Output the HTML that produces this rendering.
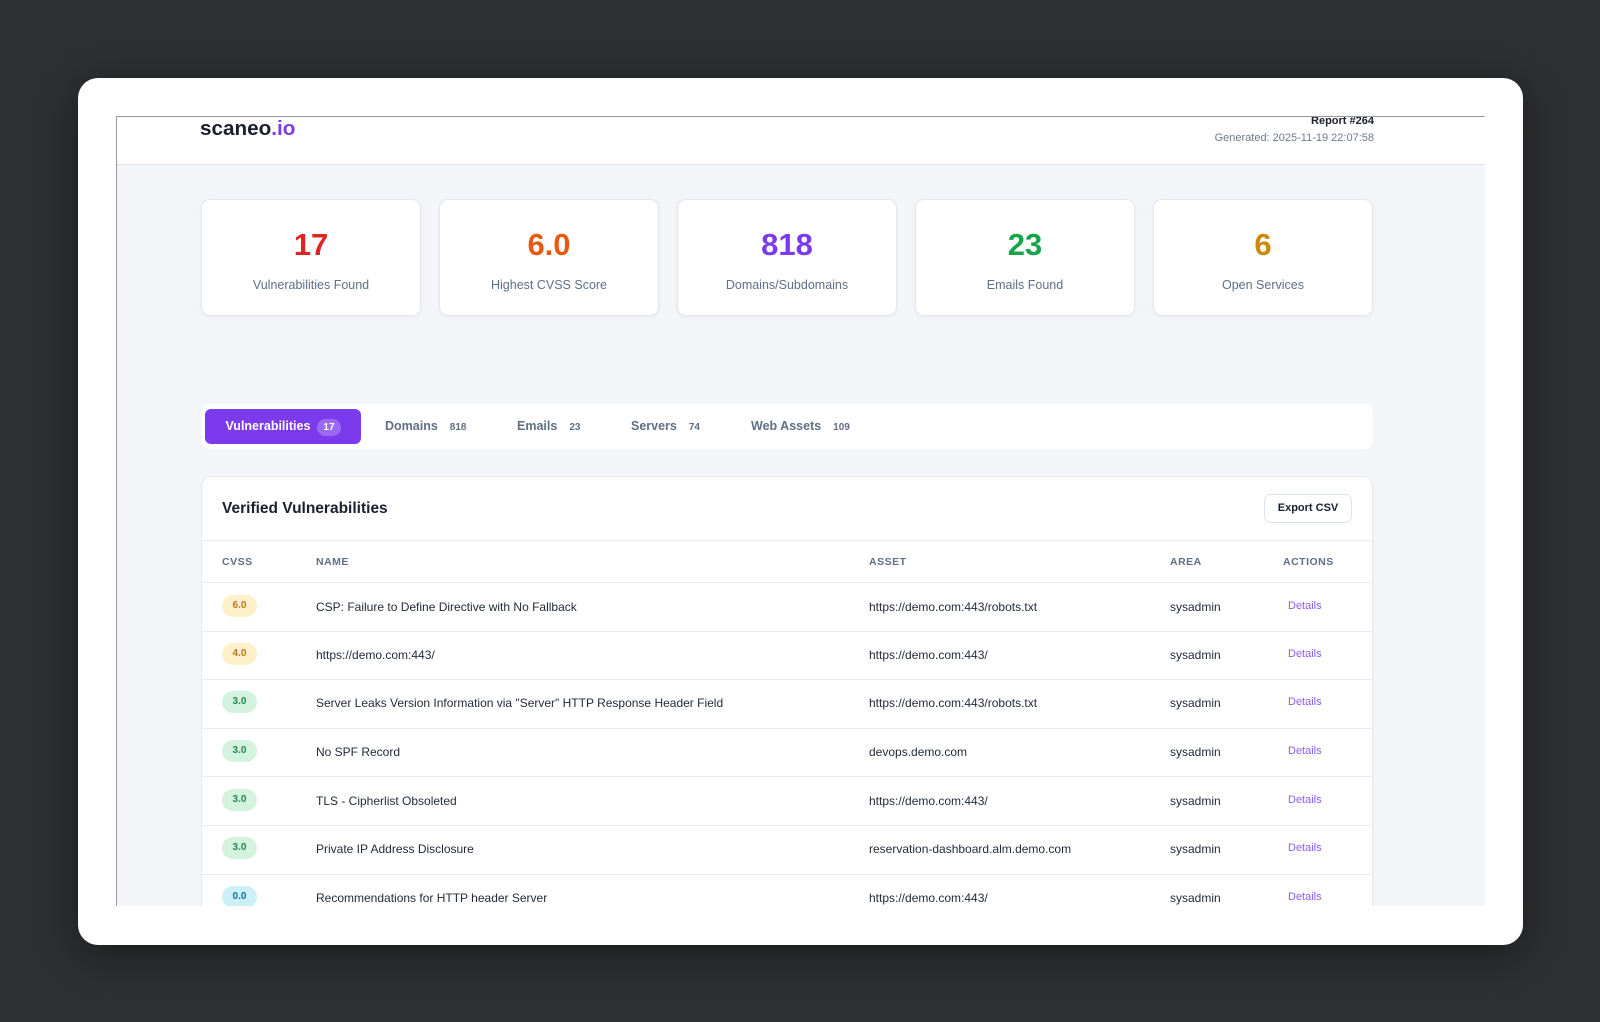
<!DOCTYPE html>
<html><head><meta charset="utf-8"><style>
*{box-sizing:border-box;margin:0;padding:0}
body{width:1600px;height:1022px;background:#2e2f32;font-family:"Liberation Sans",sans-serif;position:relative;overflow:hidden}
.frame{position:absolute;left:78px;top:78px;width:1445px;height:867px;background:#fff;border-radius:20px;box-shadow:0 10px 40px rgba(0,0,0,.4)}
.panel{position:absolute;left:116px;top:116px;width:1369px;height:790px;overflow:hidden;border-left:1px solid #999;border-top:1px solid #999;background:#f3f5f9}
.hdr{position:absolute;left:0;top:0;right:0;height:48px;background:#fff;border-bottom:1px solid #dde3ec}
.abs{position:absolute}
.logo{left:83px;top:0px;font-size:20.7px;font-weight:bold;color:#1a1f2e}
.logo span{color:#7c3aed}
.rep{right:111px;top:-2px;font-size:11px;font-weight:bold;color:#1a1f2e;text-align:right}
.gen{right:111px;top:15px;font-size:11px;color:#6b7a90;text-align:right}
.card{position:absolute;top:82px;width:220px;height:117px;background:#fff;border:1px solid #e3e8ef;border-radius:9px;text-align:center;box-shadow:0 1px 3px rgba(0,0,0,.05)}
.card .n{position:absolute;left:0;right:0;top:27px;font-size:31px;font-weight:bold}
.card .l{position:absolute;left:0;right:0;top:78px;font-size:12.5px;color:#5f6f86}
.tabs{position:absolute;left:84px;top:287px;width:1172px;height:45px;background:#fff;border-radius:9px}
.tab{position:absolute;top:5px;height:35px;line-height:35px;font-size:12.5px;font-weight:bold;color:#5f6f86}
.tab small{font-size:10px;margin-left:12px;font-weight:bold}
.tab.act{left:4px;width:156px;background:#7c3aed;color:#fff;border-radius:6px;text-align:center}
.tab.act small{display:inline-block;background:#9b69f2;border-radius:9px;padding:0 6px;line-height:17px;margin-left:7px}
.tc{position:absolute;left:84px;top:359px;width:1172px;height:500px;background:#fff;border:1px solid #e3e8ef;border-radius:10px}
.tt{left:20px;top:23px;font-size:15.5px;font-weight:bold;color:#1a1f2e}
.btn{left:1062px;top:17px;width:88px;height:29px;border:1px solid #dde3ec;border-radius:7px;font-size:11px;font-weight:bold;text-align:center;line-height:27px;color:#1a1f2e}
.line{position:absolute;left:0;right:0;height:1px;background:#e6ebf2}
.th{position:absolute;top:79px;font-size:10.5px;font-weight:bold;color:#5f6f86;letter-spacing:.5px}
.row{position:absolute;left:0;right:0;height:48px;font-size:12px;color:#1f2937}
.row div{position:absolute;top:17px}
.b{position:absolute;top:12px!important;left:20px;width:35px;height:22px;border-radius:11px;font-size:10px;font-weight:bold;text-align:center;line-height:22px}
.y{background:#fdf0c8;color:#b7791f}.g{background:#d3f3df;color:#23874a}.c{background:#cdf0f7;color:#0e7490}
.d{color:#8b5cf6;font-size:11px;left:1086px}
</style></head><body>
<div class="frame"></div>
<div class="panel">
 <div class="hdr">
  <div class="abs logo">scaneo<span>.io</span></div>
  <div class="abs rep">Report #264</div>
  <div class="abs gen">Generated: 2025-11-19 22:07:58</div>
 </div>
 <div class="card" style="left:84px"><div class="n" style="color:#dc2626">17</div><div class="l">Vulnerabilities Found</div></div>
 <div class="card" style="left:322px"><div class="n" style="color:#ea580c">6.0</div><div class="l">Highest CVSS Score</div></div>
 <div class="card" style="left:560px"><div class="n" style="color:#7c3aed">818</div><div class="l">Domains/Subdomains</div></div>
 <div class="card" style="left:798px"><div class="n" style="color:#16a34a">23</div><div class="l">Emails Found</div></div>
 <div class="card" style="left:1036px"><div class="n" style="color:#ca8a04">6</div><div class="l">Open Services</div></div>
 <div class="tabs">
  <div class="tab act">Vulnerabilities<small>17</small></div>
  <div class="tab" style="left:184px">Domains<small>818</small></div>
  <div class="tab" style="left:316px">Emails<small>23</small></div>
  <div class="tab" style="left:430px">Servers<small>74</small></div>
  <div class="tab" style="left:550px">Web Assets<small>109</small></div>
 </div>
 <div class="tc">
  <div class="abs tt">Verified Vulnerabilities</div>
  <div class="abs btn">Export CSV</div>
  <div class="line" style="top:63px"></div>
  <div class="th" style="left:20px">CVSS</div>
  <div class="th" style="left:114px">NAME</div>
  <div class="th" style="left:667px">ASSET</div>
  <div class="th" style="left:968px">AREA</div>
  <div class="th" style="left:1081px">ACTIONS</div>
  <div class="line" style="top:105px"></div>
  <div class="row" style="top:106px"><span class="b y">6.0</span><div style="left:114px">CSP: Failure to Define Directive with No Fallback</div><div style="left:667px">https://demo.com:443/robots.txt</div><div style="left:968px">sysadmin</div><div class="d">Details</div></div>
  <div class="line" style="top:154px"></div>
  <div class="row" style="top:154px"><span class="b y">4.0</span><div style="left:114px">https://demo.com:443/</div><div style="left:667px">https://demo.com:443/</div><div style="left:968px">sysadmin</div><div class="d">Details</div></div>
  <div class="line" style="top:202px"></div>
  <div class="row" style="top:202px"><span class="b g">3.0</span><div style="left:114px">Server Leaks Version Information via "Server" HTTP Response Header Field</div><div style="left:667px">https://demo.com:443/robots.txt</div><div style="left:968px">sysadmin</div><div class="d">Details</div></div>
  <div class="line" style="top:251px"></div>
  <div class="row" style="top:251px"><span class="b g">3.0</span><div style="left:114px">No SPF Record</div><div style="left:667px">devops.demo.com</div><div style="left:968px">sysadmin</div><div class="d">Details</div></div>
  <div class="line" style="top:299px"></div>
  <div class="row" style="top:300px"><span class="b g">3.0</span><div style="left:114px">TLS - Cipherlist Obsoleted</div><div style="left:667px">https://demo.com:443/</div><div style="left:968px">sysadmin</div><div class="d">Details</div></div>
  <div class="line" style="top:348px"></div>
  <div class="row" style="top:348px"><span class="b g">3.0</span><div style="left:114px">Private IP Address Disclosure</div><div style="left:667px">reservation-dashboard.alm.demo.com</div><div style="left:968px">sysadmin</div><div class="d">Details</div></div>
  <div class="line" style="top:397px"></div>
  <div class="row" style="top:397px"><span class="b c">0.0</span><div style="left:114px">Recommendations for HTTP header Server</div><div style="left:667px">https://demo.com:443/</div><div style="left:968px">sysadmin</div><div class="d">Details</div></div>
 </div>
</div>
</body></html>
